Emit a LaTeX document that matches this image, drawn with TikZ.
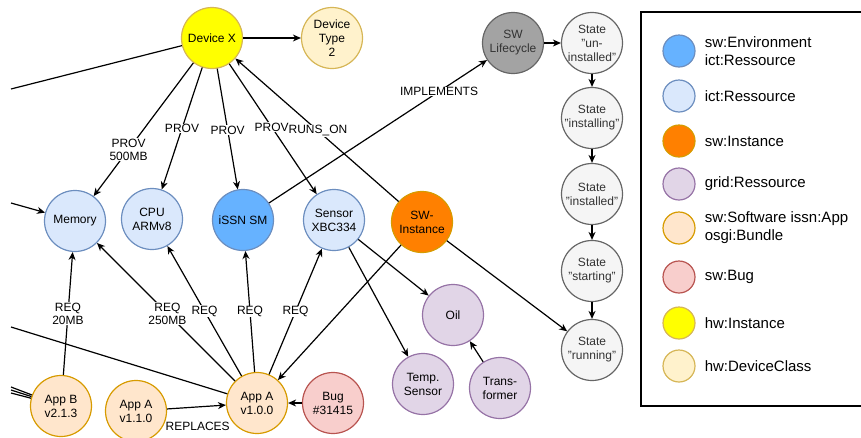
\documentclass[tikz,border=0pt]{standalone}
\usepackage{fontspec}
\setmainfont{Liberation Sans}
\usetikzlibrary{positioning,arrows.meta}

\begin{document}
\begin{tikzpicture}[x=1pt,y=-1pt]
  % some colors
  \definecolor{hwback}{HTML}{FFFF00}
  \definecolor{classback}{HTML}{FFF2CC}
  \definecolor{goldline}{HTML}{D6B656}
  \definecolor{envback}{HTML}{66B2FF}
  \definecolor{resback}{HTML}{DAE8FC}
  \definecolor{blueline}{HTML}{6C8EBF}
  \definecolor{instback}{HTML}{FF8000}
  \definecolor{orangeline}{HTML}{D79B00}
  \definecolor{gridback}{HTML}{E1D5E7}
  \definecolor{purpleline}{HTML}{9673A6}
  \definecolor{softback}{HTML}{FFE6CC}
  \definecolor{bugback}{HTML}{F8CECC}
  \definecolor{redline}{HTML}{B85450}
  \definecolor{lifeback}{HTML}{A3A3A3}
  \definecolor{stateback}{HTML}{F5F5F5}
  \definecolor{grayline}{HTML}{666666}
  \definecolor{graytext}{HTML}{333333}
  % some styles
  \tikzset{
    ball/.style={circle,minimum size=61pt,inner sep=0pt,line width=1.2pt,
      align=center,font=\fontsize{12}{14}\selectfont},
    dot/.style={circle,minimum size=32pt,inner sep=0pt,line width=1.2pt},
    hw/.style={draw=goldline,fill=hwback},
    hwclass/.style={draw=goldline,fill=classback},
    swenv/.style={draw=blueline,fill=envback},
    ictres/.style={draw=blueline,fill=resback},
    swinst/.style={draw=orangeline,fill=instback},
    gridres/.style={draw=purpleline,fill=gridback},
    swsoft/.style={draw=orangeline,fill=softback},
    swbug/.style={draw=redline,fill=bugback},
    lifecycle/.style={draw=grayline,fill=lifeback,text=graytext},
    state/.style={draw=grayline,fill=stateback,text=graytext},
    link/.style={-{Stealth[length=8pt,width=7pt,inset=2.5pt]},line width=1.2pt},
    plain/.style={line width=1.2pt},
    lbl/.style={fill=white,inner sep=.5pt,align=center,
      font=\fontsize{12}{13}\selectfont},
    legtext/.style={right=9pt of #1,inner sep=0pt,align=left,
      font=\fontsize{15}{18}\selectfont},
  }
  \useasboundingbox (0,0) rectangle (861,437);

  % hardware
  \node[ball,hw] (devx) at (212,38) {Device X};
  \node[ball,hwclass] (devtype) at (332,38) {Device\\Type\\2};
  % resources
  \node[ball,ictres] (mem) at (75,221) {Memory};
  \node[ball,ictres] (cpu) at (152,219) {CPU\\ARMv8};
  \node[ball,swenv] (issn) at (243,220) {iSSN SM};
  \node[ball,ictres] (sensor) at (334,220) {Sensor\\XBC334};
  \node[ball,swinst] (inst) at (422,222) {SW-\\Instance};
  % grid
  \node[ball,gridres] (oil) at (453,315) {Oil};
  \node[ball,gridres] (temp) at (423,384) {Temp.\\Sensor};
  \node[ball,gridres] (trafo) at (500,388) {Trans-\\former};
  % software
  \node[ball,swsoft] (appb) at (61,406) {App B\\v2.1.3};
  \node[ball,swsoft] (appnew) at (136,411) {App A\\v1.1.0};
  \node[ball,swsoft] (appa) at (257,403) {App A\\v1.0.0};
  \node[ball,swbug] (bug) at (333,403) {Bug\\\#31415};
  % lifecycle
  \node[ball,lifecycle] (life) at (513,43) {SW\\Lifecycle};
  \foreach \i/\y/\txt in {0/43/{State\\"un-\\installed"},1/118/{State\\"installing"},
      2/194/{State\\"installed"},3/271/{State\\"starting"},4/350/{State\\"running"}}
    \node[ball,state] (s-\i) at (592,\y) {\txt};

  % loose ends at the left border
  \coordinate (w-devx) at (11,89);
  \coordinate (w-mem) at (11,203);
  \coordinate (w-appa) at (11,327);
  \coordinate (w-appb1) at (11,387);
  \coordinate (w-appb2) at (11,390);
  \coordinate (w-appb3) at (11,393);

  % connectors
  \draw[plain] (w-devx) -- (devx);
  \draw[link] (w-mem) -- (mem);
  \draw[plain] (w-appa) -- (appa);
  \foreach \k in {1,2,3}
    \draw[plain] (w-appb\k) -- (appb);
  \draw[link] (devx) -- (devtype);
  \draw[link] (devx) -- node[lbl,pos=.65] {PROV\\500MB} (mem);
  \draw[link] (devx) -- node[lbl,pos=.5] {PROV} (cpu);
  \draw[link] (devx) -- node[lbl,pos=.51] {PROV} (issn);
  \draw[link] (inst) -- node[lbl,pos=.494] {RUNS\_ON} (devx);
  \draw[link] (devx) -- node[lbl,pos=.484] {PROV} (sensor);
  \draw[link] (issn) -- node[lbl,pos=.78] {IMPLEMENTS} (life);
  \draw[link] (life) -- (s-0);
  \foreach \a/\b in {0/1,1/2,2/3,3/4}
    \draw[link] (s-\a) -- (s-\b);
  \draw[link] (inst) -- (s-4);
  \draw[link] (inst) -- (appa);
  \draw[link] (sensor) -- (oil);
  \draw[link] (sensor) -- (temp);
  \draw[link] (trafo) -- (oil);
  \draw[link] (appb) -- node[lbl,pos=.5] {REQ\\20MB} (mem);
  \draw[link] (appa) -- node[lbl,pos=.49] {REQ\\250MB} (mem);
  \draw[link] (appa) -- node[lbl,pos=.5] {REQ} (cpu);
  \draw[link] (appa) -- node[lbl,pos=.5] {REQ} (issn);
  \draw[link] (appa) -- node[lbl,pos=.5] {REQ} (sensor);
  \draw[link] (appnew) -- node[lbl,pos=.52,below=14pt] {REPLACES} (appa);
  \draw[link] (bug) -- (appa);

  % legend
  \draw[line width=1.2pt] (641,12) rectangle (866,406);
  \foreach \i/\y/\sty/\txt in {1/51/swenv/{sw:Environment\\ict:Ressource},
      2/96/ictres/{ict:Ressource},3/141/swinst/{sw:Instance},
      4/184/gridres/{grid:Ressource},5/228/swsoft/{sw:Software issn:App\\osgi:Bundle},
      6/277/swbug/{sw:Bug},7/323/hw/{hw:Instance},8/366/hwclass/{hw:DeviceClass}} {
    \node[dot,\sty] (leg-\i) at (679,\y) {};
    \node[legtext=leg-\i] (legt-\i) {\txt};
  }
\end{tikzpicture}
\end{document}
